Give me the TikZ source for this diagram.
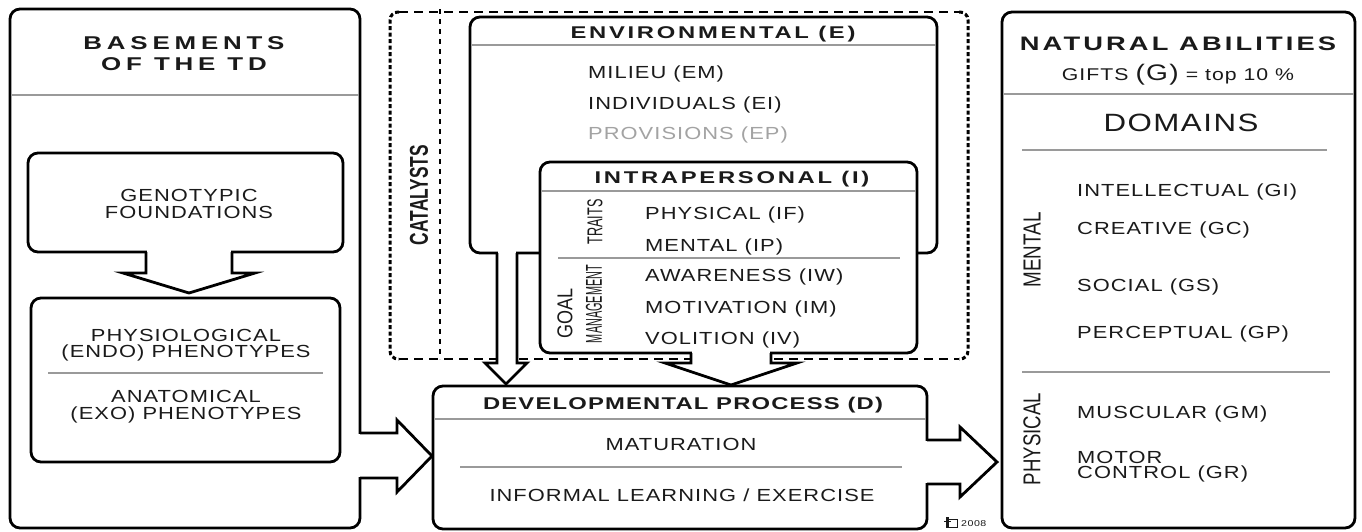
\documentclass[tikz,border=0pt]{standalone}
\usepackage{fontspec}
\setmainfont{Liberation Sans}
\newfontfamily\rf[FakeStretch=1.25,LetterSpace=6]{Liberation Sans}
\newfontfamily\tA[FakeStretch=1.4,LetterSpace=16]{Liberation Sans Bold}
\newfontfamily\tB[FakeStretch=1.4,LetterSpace=26]{Liberation Sans Bold}
\newfontfamily\tC[FakeStretch=1.4,LetterSpace=7]{Liberation Sans Bold}
\newfontfamily\cf{Liberation Sans}
\usetikzlibrary{calc}
\definecolor{sep}{HTML}{9A9A9A}
\definecolor{ink}{HTML}{1A1A1A}
\definecolor{faint}{HTML}{A3A3A3}
\newcommand\rfont[2]{\rf\fontsize{#1}{#2}\selectfont}
\newcommand\rlab[3]{\rotatebox{90}{\resizebox{#1pt}{#2pt}{#3}}}
\begin{document}
\begin{tikzpicture}[x=1pt,y=-1pt,
  box/.style={draw=black, line width=2.8pt, rounded corners=10pt, fill=white,
    inner sep=0pt, outer sep=0pt, anchor=north west},
  sepl/.style={draw=sep, line width=1.4pt},
  blk/.style={draw=black, fill=white, line width=2.8pt, line join=miter, miter limit=10},
  itm/.style={font=\rfont{17.5}{18}, text=ink, anchor=west, inner sep=0pt,
    text height=12.5pt, text depth=0pt},
  itmc/.style={itm, anchor=center},
  ttl/.style={text=ink, inner sep=0pt, text height=12.2pt, text depth=0pt},
  cdash/.style={line width=2.6pt, dash pattern=on 9pt off 6pt},
  cdot/.style={line width=3pt, dash pattern=on 4pt off 2.5pt, rounded corners=8pt},
  cin/.style={line width=2.2pt, dash pattern=on 5pt off 5pt},
  rl/.style={inner sep=0pt, text=ink}]
\useasboundingbox (0,0) rectangle (1362,531);
\fill[white] (0,0) rectangle (1362,531);

% ---------- catalysts frame ----------
\draw[cdot] (399,12) -- (390,12) -- (390,359) -- (399,359);
\draw[cdot] (959,12) -- (968,12) -- (968,359) -- (959,359);
\draw[cdash] (399,12) -- (959,12);
\draw[cdash] (399,359) -- (959,359);
\draw[cin] (440,9) -- (440,359);
\node[rl] (cat) at (419,195) {\rlab{100}{18}{\cf\bfseries CATALYSTS}};

% ---------- left panel ----------
\node[box, minimum width=350pt, minimum height=519pt] (L) at (10,9) {};
\draw[sepl] (11.5,95) -- (358.5,95);
\node[text=ink, inner sep=0pt, font={\tB\fontsize{18.5}{21}\selectfont}, align=center] (Lt) at (184,54) {BASEMENTS\\OF THE TD};
\fill[white] (358,434.4) rectangle (362,476.6);
\draw[blk] (360,433) -- (397,433) -- (397,420) -- (432,456) -- (397,492) -- (397,478) -- (360,478);

\node[box, minimum width=315pt, minimum height=99pt] (G) at (28,153) {};
\node[font=\rfont{17.5}{17}, text=ink, align=center, inner sep=0pt] (Gt) at (189,204) {GENOTYPIC\\FOUNDATIONS};
\fill[white] (147.4,250) rectangle (230.6,254);
\draw[blk] (146,252) -- (146,273) -- (123,273) -- (189,293) -- (255,273) -- (232,273) -- (232,252);

\node[box, minimum width=309pt, minimum height=164pt] (P) at (31,298) {};
\node[font=\rfont{17.5}{15.5}, text=ink, align=center, inner sep=0pt] (P1) at (186,345) {PHYSIOLOGICAL\\(ENDO) PHENOTYPES};
\draw[sepl] (48,373) -- (323,373);
\node[font=\rfont{17.5}{17}, text=ink, align=center, inner sep=0pt] (P2) at (186,407) {ANATOMICAL\\(EXO) PHENOTYPES};

% ---------- environmental ----------
\node[box, minimum width=467pt, minimum height=236pt] (E) at (470,17) {};
\draw[sepl] (471.5,45) -- (935.5,45);
\node[ttl, font={\tA\fontsize{17}{17}\selectfont}] (Et) at (713,32) {ENVIRONMENTAL (E)};
\node[itm] (em) at (588,72) {MILIEU (EM)};
\node[itm] (ei) at (588,103) {INDIVIDUALS (EI)};
\node[itm, text=faint] (ep) at (588,133) {PROVISIONS (EP)};
\fill[white] (498.4,251) rectangle (515.6,255);
\draw[blk] (497,253) -- (497,363) -- (485,363) -- (506,384) -- (527,363) -- (517,363) -- (517,253);

% ---------- intrapersonal ----------
\node[box, minimum width=377pt, minimum height=191pt] (I) at (540,162) {};
\draw[sepl] (541.5,191) -- (915.5,191);
\node[ttl, font={\tA\fontsize{17}{17}\selectfont}] (It) at (732,177) {INTRAPERSONAL (I)};
\node[rl] (traits) at (595,222) {\rlab{45}{15}{\cf TRAITS}};
\node[itm] (if) at (645,213) {PHYSICAL (IF)};
\node[itm] (ip) at (645,245) {MENTAL (IP)};
\draw[sepl] (558,258) -- (900,258);
\node[rl] (goal) at (565,313) {\rlab{50}{15}{\cf GOAL}};
\node[rl] (mgmt) at (594,304) {\rlab{78}{16}{\cf MANAGEMENT}};
\node[itm] (iw) at (645,275) {AWARENESS (IW)};
\node[itm] (im) at (645,307) {MOTIVATION (IM)};
\node[itm] (iv) at (645,338) {VOLITION (IV)};
\fill[white] (692.4,351) rectangle (769.6,355);
\draw[blk] (691,353) -- (691,363) -- (665,363) -- (731,385) -- (797,363) -- (771,363) -- (771,353);

% ---------- developmental process ----------
\node[box, minimum width=494pt, minimum height=143pt] (D) at (433,386) {};
\draw[sepl] (434.5,419) -- (925.5,419);
\node[ttl, font={\tC\fontsize{17}{17}\selectfont}] (Dt) at (683,403) {DEVELOPMENTAL PROCESS (D)};
\node[itmc] (mat) at (681,444) {MATURATION};
\draw[sepl] (460,467) -- (902,467);
\node[itmc] (inf) at (682,495) {INFORMAL LEARNING / EXERCISE};
\fill[white] (925,441.4) rectangle (929,482.6);
\draw[blk] (927,440) -- (960,440) -- (960,427) -- (997,462) -- (960,497) -- (960,484) -- (927,484);

% logo
\fill[ink] (946,517) rectangle (948.5,528);
\draw[ink, line width=1pt] (949,519.5) -- (957,519.5) -- (957,527.5) -- (949,527.5);
\draw[ink, line width=1pt] (944,521) -- (951,521);
\node[font=\rfont{8.5}{9}, text=ink, anchor=west, inner sep=0pt] (yr) at (961,523.5) {2008};

% ---------- natural abilities ----------
\node[box, minimum width=353pt, minimum height=516pt] (R) at (1002,12) {};
\draw[sepl] (1003.5,94) -- (1353.5,94);
\node[ttl, font={\tA\fontsize{19.5}{20}\selectfont}, text height=14pt] (Rt) at (1178,43) {NATURAL ABILITIES};
\node[font=\rfont{17}{18}, text=ink, inner sep=0pt] (gifts) at (1178,75) {GIFTS {\fontsize{22.5}{22}\selectfont(G)} = top 10 \%};
\node[font=\rfont{25}{25}, text=ink, inner sep=0pt, text height=18pt, text depth=0pt] (dom) at (1181,122) {DOMAINS};
\draw[sepl] (1022,150) -- (1327,150);
\node[rl] (mental) at (1032,250) {\rlab{75}{17}{\cf MENTAL}};
\node[itm] (gi) at (1077,190) {INTELLECTUAL (GI)};
\node[itm] (gc) at (1077,228) {CREATIVE (GC)};
\node[itm] (gs) at (1077,285) {SOCIAL (GS)};
\node[itm] (gp) at (1077,332) {PERCEPTUAL (GP)};
\draw[sepl] (1022,372) -- (1330,372);
\node[rl] (phys) at (1032,439) {\rlab{92}{17}{\cf PHYSICAL}};
\node[itm] (gm) at (1077,412) {MUSCULAR (GM)};
\node[font=\rfont{17.5}{15}, text=ink, align=left, anchor=west, inner sep=0pt] (gr) at (1077,467) {MOTOR\\CONTROL (GR)};
\end{tikzpicture}
\end{document}
